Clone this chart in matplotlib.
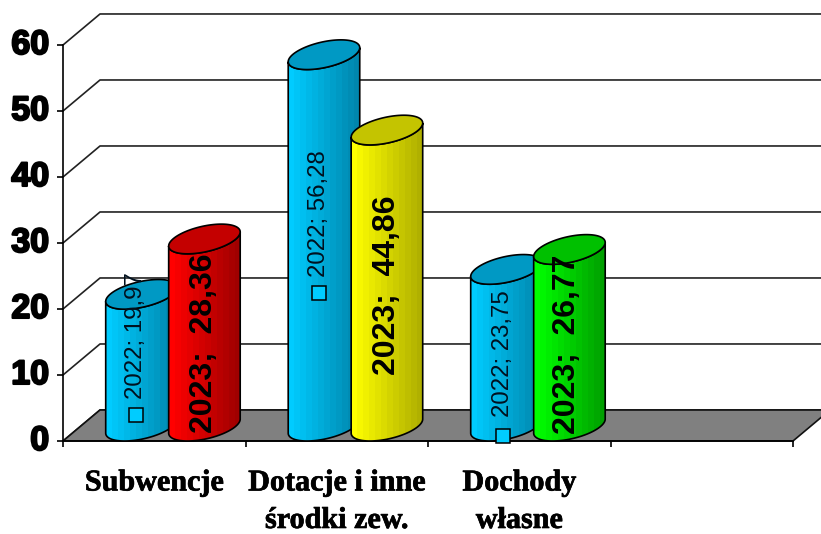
import numpy as np
import matplotlib
matplotlib.use('Agg')
import matplotlib.pyplot as plt
import matplotlib.patheffects as pe
from matplotlib.colors import LinearSegmentedColormap
from matplotlib.patches import Polygon
from matplotlib.transforms import ScaledTranslation

# data
categories = ['Subwencje', 'Dotacje i inne\nśrodki zew.', 'Dochody\nwłasne']
values_2022 = [19.97, 56.28, 23.75]
values_2023 = [28.36, 44.86, 26.77]
labels_2022 = ['2022; 19,97', '2022; 56,28', '2022; 23,75']
labels_2023 = ['2023;  28,36', '2023;  44,86', '2023;  26,77']
y_ticks = [0, 10, 20, 30, 40, 50, 60]

# layout, in axis units
N_SLOTS = 4
WALL_DX = 37 / 182.5
WALL_DY = 4.7
BAR_W = 0.345
BAR_DX = 0.186
BAR_DY = 4.5
OFFSET_2022 = 0.43
OFFSET_2023 = 0.775
label_y_2022 = [16.0, 34.4, 13.2]
key_y_2022 = [3.9, 22.4, 0.8]
label_dx_2022 = [-0.03, -0.03, -0.02]
label_y_2023 = [14.8, 23.6, 14.6]
label_dx_2023 = [-0.004, 0.002, -0.014]

BLUE = ('#00CCFF', '#0086AD', '#0099C4')
RED = ('#FF0000', '#A00000', '#C40000')
YELLOW = ('#FFFF00', '#B0B000', '#C4C400')
GREEN = ('#00FF00', '#00A000', '#00C000')


def ellipse(cx, cy, t):
    return (cx + BAR_W / 2 * np.cos(t) + BAR_DX / 2 * np.sin(t),
            cy + BAR_DY / 2 * np.sin(t))


def cylinder(ax, cx, value, colors, z):
    t_r = np.arctan2(BAR_DX, BAR_W)
    t_low = np.linspace(t_r + np.pi, t_r + 2 * np.pi, 60)
    x_b, y_b = ellipse(cx, BAR_DY / 2, t_low)
    x_t, y_t = ellipse(cx, value + BAR_DY / 2, t_low[::-1])
    body = np.column_stack([np.r_[x_b, x_t], np.r_[y_b, y_t]])

    # paski gradientu, jak w oryginale
    cmap = LinearSegmentedColormap.from_list('bar', colors[:2], N=12)
    outline = Polygon(body, closed=True, fc='none', ec='black', lw=1.2, zorder=z + 0.2, clip_on=False)
    ax.add_patch(outline)
    img = ax.imshow(np.linspace(0, 1, 12)[None, :], extent=(x_b.min(), x_b.max(), 0, value + BAR_DY),
                    aspect='auto', cmap=cmap, zorder=z, interpolation='nearest')
    img.set_clip_path(Polygon(body, closed=True, transform=ax.transData))

    x_e, y_e = ellipse(cx, value + BAR_DY / 2, np.linspace(0, 2 * np.pi, 120))
    ax.add_patch(Polygon(np.column_stack([x_e, y_e]), closed=True, fc=colors[2], ec='black', lw=1.2,
                         zorder=z + 0.3, clip_on=False))


def main():
    fig = plt.figure(figsize=(8.21, 5.34), dpi=100)
    ax = fig.add_axes([63 / 821, (534 - 441) / 534, 730 / 821, 396 / 534])
    ax.patch.set_visible(False)

    # sciany i podloga
    ax.add_patch(Polygon([(0, 0), (N_SLOTS, 0), (N_SLOTS + WALL_DX, WALL_DY), (WALL_DX, WALL_DY)],
                         closed=True, fc='#808080', ec='#111111', lw=1.2, zorder=1, clip_on=False))
    for v in y_ticks:
        ax.plot([0, WALL_DX, N_SLOTS + WALL_DX], [v, v + WALL_DY, v + WALL_DY], color='#222222',
                lw=1.2, zorder=1.5 if v else 0.5, clip_on=False)

    # slupki
    for i in range(len(categories)):
        cylinder(ax, i + OFFSET_2022, values_2022[i], BLUE, 3 + i * 2)
        color = [RED, YELLOW, GREEN][i]
        cylinder(ax, i + OFFSET_2023, values_2023[i], color, 4 + i * 2)

    # etykiety danych
    for i in range(len(categories)):
        x = i + OFFSET_2022 + label_dx_2022[i]
        ax.text(x, label_y_2022[i], labels_2022[i], rotation=90, ha='center', va='center',
                family='Liberation Sans', fontsize=17.3, color='#00101e', zorder=20, clip_on=False)
        ax.plot([x], [key_y_2022[i]], marker='s', ms=9.5, mfc='#00CCFF', mec='black', mew=1.1,
                zorder=20, clip_on=False)
        ax.text(i + OFFSET_2023 + label_dx_2023[i], label_y_2023[i], labels_2023[i], rotation=90,
                ha='center', va='center', family='Liberation Sans', fontweight='bold', fontsize=23,
                color='black', zorder=20, clip_on=False)

    ax.set_xlim(0, N_SLOTS)
    ax.set_ylim(0, 60)
    for s in ['top', 'right']:
        ax.spines[s].set_visible(False)
    for s in ['left', 'bottom']:
        ax.spines[s].set_linewidth(1.2)
        ax.spines[s].set_zorder(2)

    ax.set_yticks(y_ticks)
    ax.set_yticklabels([str(v) for v in y_ticks], family='Liberation Sans', fontweight='bold',
                       fontsize=24.5, path_effects=[pe.withStroke(linewidth=1.5, foreground='black')])
    ax.tick_params(axis='y', length=4.5, width=1.2, pad=5.5)
    shift = ScaledTranslation(0, 3 / 100, fig.dpi_scale_trans)
    for lab in ax.get_yticklabels():
        lab.set_transform(lab.get_transform() + shift)

    ax.set_xticks(range(N_SLOTS + 1))
    ax.set_xticklabels([])
    ax.set_xticks(np.arange(len(categories)) + 0.5, minor=True)
    ax.set_xticklabels(categories, minor=True, family='Liberation Serif', fontweight='bold',
                       fontsize=21.7, linespacing=1.5,
                       path_effects=[pe.withStroke(linewidth=0.5, foreground='black')])
    ax.tick_params(axis='x', which='major', length=4.5, width=1.2)
    ax.tick_params(axis='x', which='minor', length=0, pad=20.5)

    fig.savefig('out.png', dpi=100)
    plt.close(fig)


if __name__ == "__main__":
    main()
